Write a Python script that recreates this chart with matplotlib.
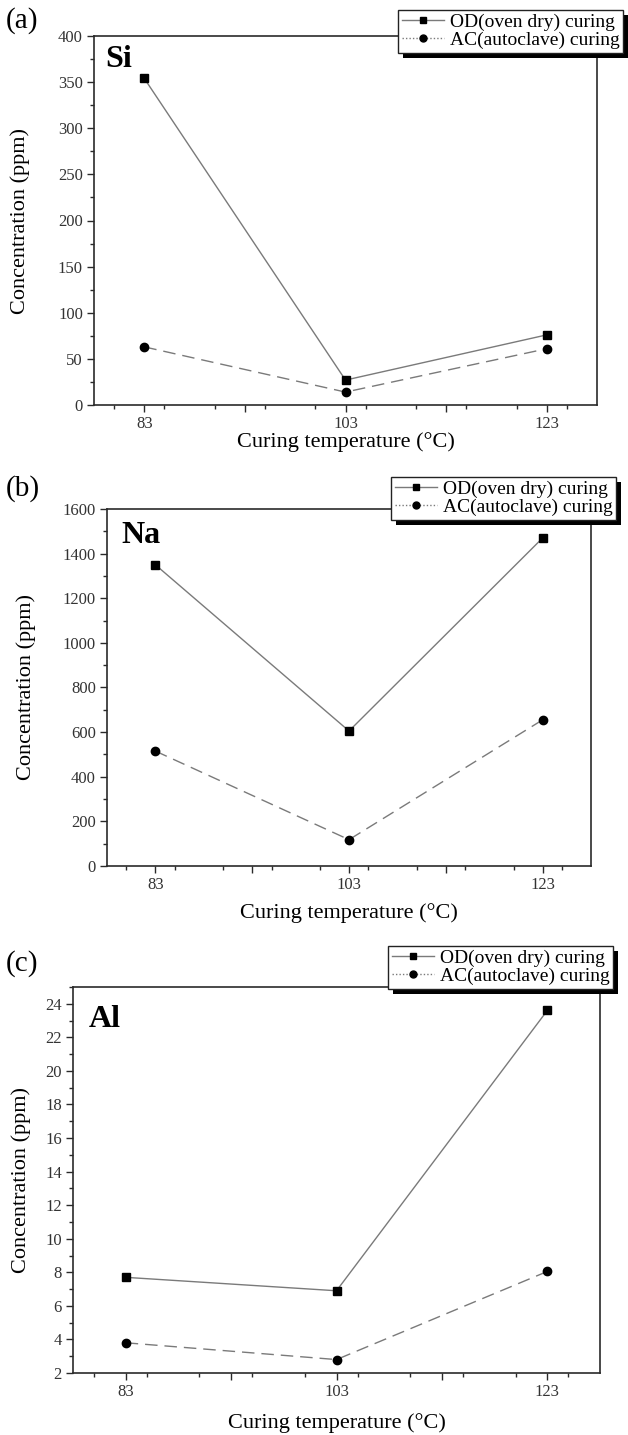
import matplotlib
matplotlib.use("Agg")
import matplotlib.pyplot as plt
from matplotlib.lines import Line2D
from matplotlib.patches import Rectangle
from matplotlib.ticker import FixedLocator, MultipleLocator

plt.rcParams['font.family'] = ['Liberation Serif', 'DejaVu Serif']

# ---- data ----
temps = [83, 103, 123]
x_major = [83, 93, 103, 113, 123]
si_od = [354, 27, 76]
si_ac = [63, 14, 61]
na_od = [1350, 605, 1470]
na_ac = [515, 118, 655]
al_od = [7.7, 6.9, 23.6]
al_ac = [3.8, 2.8, 8.05]
od_label = "OD(oven dry) curing"
ac_label = "AC(autoclave) curing"
xlabel = "Curing temperature (\u00b0C)"
ylabel = "Concentration (ppm)"

W, H = 628, 1435
fig = plt.figure(figsize=(W / 100, H / 100), dpi=100)


def fx(px):
    return px / W


def fy(py):
    return 1 - py / H


panels = [
    dict(l=94, r=597, t=36, b=405, od=si_od, ac=si_ac, ylim=(0, 400), ymaj=50, ymin=25,
         el="Si", tag="(a)", tagy=21, leg=(398, 10), ylx=20, xlo=37, eo=(11, 9)),
    dict(l=107, r=591, t=509, b=866, od=na_od, ac=na_ac, ylim=(0, 1600), ymaj=200, ymin=100,
         el="Na", tag="(b)", tagy=489, leg=(391, 477), ylx=26, xlo=47, eo=(14, 12)),
    dict(l=73, r=600, t=987, b=1373, od=al_od, ac=al_ac, ylim=(2, 25), ymaj=2, ymin=1,
         el="Al", tag="(c)", tagy=964, leg=(388, 946), ylx=21, xlo=50, eo=(16, 18)),
]

line_col = '#7a7a7a'
spine_col = '#2a2a2a'
legends = []

for p in panels:
    ax = fig.add_axes([fx(p['l']), fy(p['b']), fx(p['r'] - p['l']), (p['b'] - p['t']) / H])
    ax.plot(temps, p['od'], color=line_col, lw=1.0, ls='-', marker='s', ms=5.2,
            mfc='black', mec='black', zorder=3)
    ax.plot(temps, p['ac'], color=line_col, lw=1.0, ls=(0, (9, 5)), marker='o', ms=6,
            mfc='black', mec='black', zorder=3)
    ax.set_xlim(78, 128)
    ax.set_ylim(*p['ylim'])
    ax.xaxis.set_major_locator(FixedLocator(x_major))
    ax.set_xticklabels([str(t) if t in temps else '' for t in x_major])
    ax.xaxis.set_minor_locator(MultipleLocator(5))
    ax.yaxis.set_major_locator(MultipleLocator(p['ymaj']))
    ax.yaxis.set_minor_locator(MultipleLocator(p['ymin']))
    for s in ax.spines.values():
        s.set_color(spine_col)
        s.set_linewidth(1.2)
    ax.tick_params(which='major', direction='out', length=5, width=1.0, color=spine_col,
                   labelsize=12, labelcolor='#333333', pad=3)
    ax.tick_params(which='minor', direction='out', length=3, width=1.0, color=spine_col)
    ax.set_xlabel(xlabel, fontsize=16)
    ax.set_ylabel(ylabel, fontsize=16)
    wpx = p['r'] - p['l']
    hpx = p['b'] - p['t']
    ax.yaxis.set_label_coords((p['ylx'] - p['l']) / wpx, 0.5)
    ax.xaxis.set_label_coords(0.5, -p['xlo'] / hpx)
    ax.xaxis.label.set_va('center')
    ax.yaxis.label.set_va('center')
    ax.text(fx(p['l'] + p['eo'][0]), fy(p['t'] + p['eo'][1]), p['el'], transform=fig.transFigure,
            fontsize=23, fontweight='bold', va='top', ha='left')
    fig.text(fx(6), fy(p['tagy']), p['tag'], fontsize=21, va='center', ha='left')

    handles = [
        Line2D([], [], color=line_col, lw=1.0, ls='-', marker='s', ms=5, mfc='black', mec='black'),
        Line2D([], [], color=line_col, lw=1.0, ls=(0, (1, 1.5)), marker='o', ms=5, mfc='black', mec='black'),
    ]
    leg = fig.legend(handles, [od_label, ac_label], loc='upper left',
                     bbox_to_anchor=(fx(p['leg'][0]), fy(p['leg'][1])),
                     bbox_transform=fig.transFigure, borderaxespad=0, fontsize=14,
                     frameon=True, fancybox=False, framealpha=1, edgecolor='#222222',
                     handlelength=2.2, handletextpad=0.3, borderpad=0.18, labelspacing=0.02)
    leg.get_frame().set_linewidth(1.0)
    leg.set_zorder(6)
    legends.append(leg)

fig.canvas.draw()
for leg in legends:
    bb = leg.get_window_extent()
    off = 5
    rect = Rectangle(((bb.x0 + off) / W, (bb.y0 - off) / H), bb.width / W, bb.height / H,
                     transform=fig.transFigure, facecolor='black', edgecolor='none', zorder=5)
    fig.add_artist(rect)

fig.savefig("out.png", dpi=100)
